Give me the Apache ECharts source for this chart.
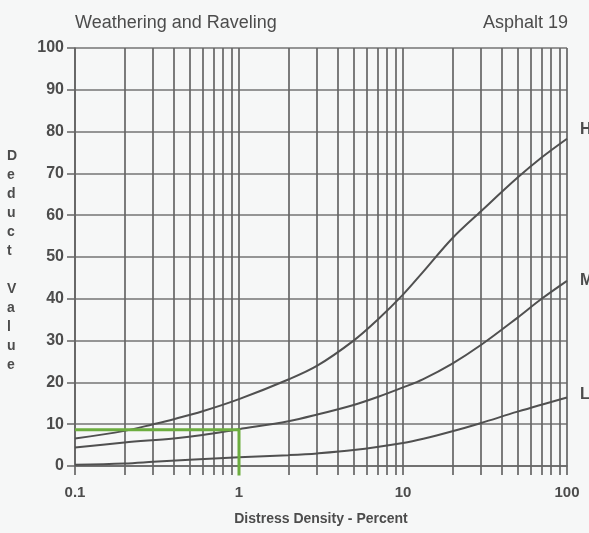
<!DOCTYPE html>
<html>
<head>
<meta charset="utf-8">
<script src="https://cdn.jsdelivr.net/npm/echarts@6/dist/echarts.min.js"></script>
<style>
  html, body { margin: 0; padding: 0; background: #f6f7f7; }
  #chart { width: 589px; height: 533px; }
</style>
</head>
<body>
<div id="chart"></div>
<script>
// Deduct value curves for weathering and raveling (asphalt), by severity level.
const densityH = [0.1, 0.2, 0.3, 0.4, 0.6, 1, 2, 3, 5, 7, 10, 13.3, 20, 30, 50, 70, 100];
const deductH  = [6.6, 8.4, 10, 11.2, 13.1, 16, 20.7, 24, 30, 35, 41, 46.5, 54.5, 61, 69, 73.8, 78.3];

const densityM = [0.1, 0.2, 0.4, 0.6, 1, 2, 3, 5, 7, 10, 13.3, 20, 30, 50, 70, 100];
const deductM  = [4.4, 5.6, 6.6, 7.4, 8.8, 10.7, 12.3, 14.6, 16.5, 18.8, 20.8, 24.5, 29, 35.5, 40, 44.3];

const densityL = [0.1, 0.2, 0.3, 0.5, 1, 2, 3, 5, 10, 13.3, 20, 30, 50, 100];
const deductL  = [0.3, 0.6, 1, 1.5, 2.1, 2.6, 3, 3.8, 5.5, 6.5, 8.3, 10.3, 13, 16.4];

// Worked reading: 1 % density read across to the deduct value.
const readingX = [0.1, 1, 1];
const readingY = [8.7, 8.7, -2.3];

// Log-paper rulings and labels
const xRulings = [0.1, 0.2, 0.3, 0.4, 0.5, 0.6, 0.7, 0.8, 0.9,
                  1, 2, 3, 4, 5, 6, 7, 8, 9,
                  10, 20, 30, 40, 50, 60, 70, 80, 90, 100];
const xLabelValues = [0.1, 1, 10, 100];
const xLabelText = ['0.1', '1', '10', '100'];

const pairs = (xs, ys) => xs.map((x, i) => [x, ys[i]]);

const FONT = '"Liberation Sans", Arial, sans-serif';
const INK = '#4c4c4c';
const RULE = '#666666';
const CURVE = '#505050';

const chart = echarts.init(document.getElementById('chart'));

function curve(name, xs, ys, labelDy) {
  return {
    name: name,
    type: 'line',
    data: pairs(xs, ys),
    smooth: 0.35,
    showSymbol: false,
    symbol: 'none',
    lineStyle: { color: CURVE, width: 2 },
    endLabel: {
      show: true,
      formatter: p => p.seriesName,
      offset: [5, labelDy],
      fontFamily: FONT,
      fontWeight: 'bold',
      fontSize: 16,
      color: INK
    },
    z: 3,
    animation: false
  };
}

chart.setOption({
  backgroundColor: '#f6f7f7',
  animation: false,
  grid: { left: 75, right: 22, top: 48, bottom: 67 },
  title: [
    {
      text: 'Weathering and Raveling',
      left: 70, top: 9,
      textStyle: { fontFamily: FONT, fontSize: 18, fontWeight: 'normal', color: INK }
    },
    {
      text: 'Asphalt 19',
      right: 16, top: 9,
      textStyle: { fontFamily: FONT, fontSize: 18, fontWeight: 'normal', color: INK }
    }
  ],
  xAxis: {
    type: 'log',
    logBase: 10,
    min: 0.1,
    max: 100,
    name: 'Distress Density - Percent',
    nameLocation: 'middle',
    nameGap: 46,
    nameTextStyle: { fontFamily: FONT, fontSize: 14, fontWeight: 'bold', color: INK },
    axisLine: { show: true, lineStyle: { color: RULE, width: 1.6 } },
    axisTick: {
      show: true, inside: false, length: 9,
      customValues: xRulings,
      lineStyle: { color: RULE, width: 1.7 }
    },
    splitLine: { show: true, lineStyle: { color: RULE, width: 1.7 } },
    axisLabel: {
      customValues: xLabelValues,
      formatter: v => xLabelText[xLabelValues.indexOf(v)] ?? String(v),
      margin: 19,
      fontFamily: FONT, fontSize: 15, fontWeight: 'bold', color: INK
    }
  },
  yAxis: {
    type: 'value',
    min: 0,
    max: 100,
    interval: 10,
    axisLine: { show: true, lineStyle: { color: RULE, width: 1.7 } },
    axisTick: { show: true, inside: false, length: 8, lineStyle: { color: RULE, width: 1.5 } },
    splitLine: { show: true, lineStyle: { color: '#747474', width: 1.5 } },
    axisLabel: {
      margin: 11,
      fontFamily: FONT, fontSize: 16, fontWeight: 'bold', color: INK
    }
  },
  graphic: [
    {
      type: 'text',
      left: 7,
      top: 147,
      style: {
        text: 'D\ne\nd\nu\nc\nt\n\nV\na\nl\nu\ne',
        fontFamily: FONT,
        fontSize: 14,
        fontWeight: 'bold',
        lineHeight: 19,
        align: 'center',
        fill: INK
      }
    }
  ],
  series: [
    curve('H', densityH, deductH, -9),
    curve('M', densityM, deductM, 0),
    curve('L', densityL, deductL, -3),
    {
      name: 'reading',
      type: 'line',
      data: pairs(readingX, readingY),
      showSymbol: false,
      symbol: 'none',
      clip: false,
      lineStyle: { color: '#6cad3f', width: 3, join: 'miter', cap: 'butt' },
      z: 5,
      animation: false
    }
  ]
});
</script>
</body>
</html>
